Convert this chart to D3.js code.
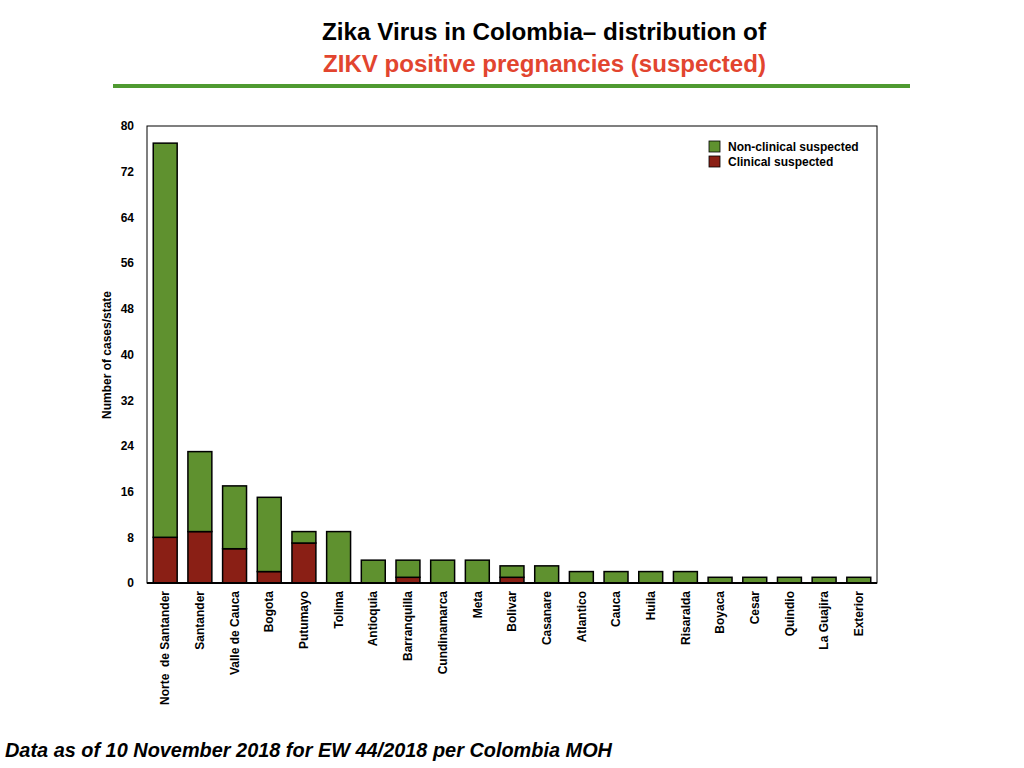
<!DOCTYPE html>
<html>
<head>
<meta charset="utf-8">
<script src="https://cdn.jsdelivr.net/npm/d3@7.9.0/dist/d3.min.js"></script>
<style>
  body { margin: 0; background: white; }
  svg { display: block; font-family: "Liberation Sans", Arial, sans-serif; }
</style>
</head>
<body>
<svg id="chart" width="1024" height="768"></svg>
<script>
const states = ["Norte  de Santander", "Santander", "Valle de Cauca", "Bogota", "Putumayo", "Tolima",
  "Antioquia", "Barranquilla", "Cundinamarca", "Meta", "Bolivar", "Casanare", "Atlantico", "Cauca",
  "Huila", "Risaralda", "Boyaca", "Cesar", "Quindio", "La Guajira", "Exterior"];
const clinical =    [8, 9, 6, 2, 7, 0, 0, 1, 0, 0, 1, 0, 0, 0, 0, 0, 0, 0, 0, 0, 0];
const nonClinical = [69, 14, 11, 13, 2, 9, 4, 3, 4, 4, 2, 3, 2, 2, 2, 2, 1, 1, 1, 1, 1];
const yTicks = [0, 8, 16, 24, 32, 40, 48, 56, 64, 72, 80];
const seriesNames = ["Non-clinical suspected", "Clinical suspected"];

const green = "#5f912f", red = "#8a1f15";
const svg = d3.select("#chart");
const area = { left: 147, right: 877, top: 126, bottom: 583 };

// title
svg.append("text").attr("x", 322).attr("y", 40)
  .attr("textLength", 444).attr("lengthAdjust", "spacingAndGlyphs")
  .attr("font-weight", "bold").attr("font-size", 24).attr("fill", "#000")
  .text("Zika Virus in Colombia\u2013  distribution of");
svg.append("text").attr("x", 323).attr("y", 72)
  .attr("textLength", 443).attr("lengthAdjust", "spacingAndGlyphs")
  .attr("font-weight", "bold").attr("font-size", 24).attr("fill", "#e2452f")
  .text("ZIKV positive pregnancies (suspected)");
svg.append("line").attr("x1", 113).attr("x2", 910).attr("y1", 86).attr("y2", 86)
  .attr("stroke", "#4f9a31").attr("stroke-width", 4);

const x = d3.scaleBand().domain(states).range([area.left, area.right]).paddingInner(0.31).paddingOuter(0.18);
const y = d3.scaleLinear().domain([0, 80]).range([area.bottom, area.top]);

const rows = states.map((s, i) => ({ state: s, clinical: clinical[i], nonClinical: nonClinical[i] }));
const stack = d3.stack().keys(["clinical", "nonClinical"])(rows);
const colors = { clinical: red, nonClinical: green };

stack.forEach(layer => {
  svg.append("g").selectAll("rect")
    .data(layer.filter(d => d[1] > d[0]))
    .join("rect")
    .attr("x", d => x(d.data.state))
    .attr("width", x.bandwidth())
    .attr("y", d => y(d[1]))
    .attr("height", d => y(d[0]) - y(d[1]))
    .attr("fill", colors[layer.key])
    .attr("stroke", "#000")
    .attr("stroke-width", 1.5);
});

// frame
svg.append("rect").attr("x", area.left).attr("y", area.top)
  .attr("width", area.right - area.left).attr("height", area.bottom - area.top)
  .attr("fill", "none").attr("stroke", "#000").attr("stroke-width", 1);
svg.append("line").attr("x1", area.left).attr("x2", area.right)
  .attr("y1", area.bottom).attr("y2", area.bottom).attr("stroke", "#000").attr("stroke-width", 2);

// y axis
const yAxis = svg.append("g").attr("transform", `translate(${area.left},0)`)
  .call(d3.axisLeft(y).tickValues(yTicks).tickSize(0).tickPadding(13));
yAxis.select(".domain").remove();
yAxis.selectAll("text").attr("font-size", 12).attr("font-weight", "bold")
  .attr("font-family", "'Liberation Sans', Arial, sans-serif").attr("fill", "#000");

// x axis
const xAxis = svg.append("g").attr("transform", `translate(0,${area.bottom})`)
  .call(d3.axisBottom(x).tickSize(0));
xAxis.select(".domain").remove();
xAxis.selectAll("text")
  .attr("transform", "rotate(-90)")
  .attr("x", -8).attr("y", 0).attr("dy", "0.35em")
  .style("text-anchor", "end")
  .attr("font-size", 12).attr("font-weight", "bold")
  .attr("font-family", "'Liberation Sans', Arial, sans-serif").attr("fill", "#000")
  .style("white-space", "pre");

// y label
svg.append("text").attr("transform", "rotate(-90)")
  .attr("x", -355).attr("y", 111).attr("text-anchor", "middle")
  .attr("font-size", 12).attr("font-weight", "bold").text("Number of cases/state");

// legend
const legend = svg.append("g").attr("transform", "translate(709,141)");
[green, red].forEach((c, i) => {
  legend.append("rect").attr("x", 0).attr("y", i * 15).attr("width", 11).attr("height", 11)
    .attr("fill", c).attr("stroke", "#000").attr("stroke-width", 0.8);
  legend.append("text").attr("x", 19).attr("y", i * 15 + 10)
    .attr("font-size", 12).attr("font-weight", "bold").text(seriesNames[i]);
});

// footer
svg.append("text").attr("x", 5).attr("y", 757)
  .attr("textLength", 607).attr("lengthAdjust", "spacingAndGlyphs")
  .attr("font-size", 21).attr("font-weight", "bold").attr("font-style", "italic")
  .text("Data as of 10 November 2018 for EW 44/2018 per Colombia MOH");
</script>
</body>
</html>
